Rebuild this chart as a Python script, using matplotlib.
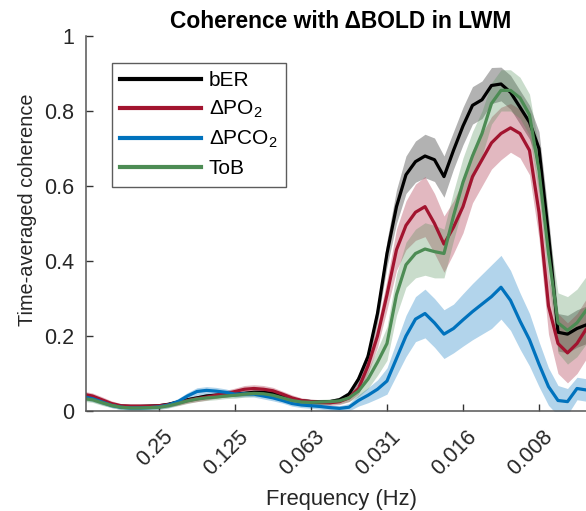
import numpy as np
import matplotlib
matplotlib.use('Agg')
import matplotlib.pyplot as plt
import matplotlib.transforms as mtransforms
from matplotlib.ticker import FixedLocator, FixedFormatter, NullLocator

plt.rcParams['font.family'] = ['Liberation Sans', 'DejaVu Sans']
plt.rcParams['mathtext.fontset'] = 'custom'
plt.rcParams['mathtext.rm'] = 'Liberation Sans'
plt.rcParams['mathtext.it'] = 'Liberation Sans:italic'
plt.rcParams['mathtext.bf'] = 'Liberation Sans:bold'

# frequency grid (1/8-octave steps from 0.5 Hz downwards)
period_log2 = np.arange(1.0, 7.76, 0.125)
freq = 2.0 ** (-period_log2)

ber_mean = [0.040, 0.035, 0.025, 0.017, 0.013, 0.012, 0.012, 0.013,
            0.014, 0.018, 0.024, 0.030, 0.035, 0.040, 0.042, 0.043,
            0.045, 0.047, 0.050, 0.050, 0.047, 0.040, 0.032, 0.027,
            0.025, 0.024, 0.025, 0.030, 0.045, 0.085, 0.145, 0.260,
            0.420, 0.545, 0.630, 0.665, 0.680, 0.670, 0.625, 0.695,
            0.760, 0.815, 0.830, 0.868, 0.872, 0.850, 0.810, 0.770,
            0.700, 0.470, 0.210, 0.205, 0.220, 0.230, 0.235]
ber_err = [0.006, 0.006, 0.006, 0.006, 0.005, 0.005, 0.005, 0.005,
           0.005, 0.005, 0.006, 0.006, 0.006, 0.006, 0.006, 0.006,
           0.006, 0.006, 0.006, 0.006, 0.006, 0.006, 0.006, 0.006,
           0.006, 0.006, 0.006, 0.007, 0.008, 0.012, 0.018, 0.025,
           0.035, 0.045, 0.050, 0.055, 0.058, 0.058, 0.055, 0.050,
           0.050, 0.050, 0.050, 0.048, 0.045, 0.045, 0.045, 0.045,
           0.045, 0.050, 0.050, 0.050, 0.050, 0.050, 0.050]

po2_mean = [0.045, 0.040, 0.030, 0.020, 0.014, 0.013, 0.013, 0.013,
            0.014, 0.017, 0.022, 0.028, 0.033, 0.037, 0.042, 0.046,
            0.052, 0.058, 0.060, 0.058, 0.054, 0.045, 0.035, 0.028,
            0.025, 0.023, 0.022, 0.025, 0.035, 0.060, 0.120, 0.200,
            0.310, 0.430, 0.495, 0.530, 0.545, 0.500, 0.445, 0.490,
            0.545, 0.625, 0.670, 0.715, 0.740, 0.755, 0.740, 0.695,
            0.530, 0.280, 0.180, 0.155, 0.180, 0.220, 0.230]
po2_err = [0.008, 0.008, 0.008, 0.007, 0.006, 0.006, 0.006, 0.006,
           0.006, 0.006, 0.007, 0.007, 0.008, 0.008, 0.008, 0.009,
           0.009, 0.010, 0.010, 0.010, 0.009, 0.008, 0.008, 0.007,
           0.007, 0.007, 0.007, 0.008, 0.010, 0.015, 0.020, 0.030,
           0.040, 0.055, 0.065, 0.075, 0.080, 0.080, 0.075, 0.070,
           0.070, 0.070, 0.070, 0.070, 0.070, 0.065, 0.065, 0.065,
           0.070, 0.075, 0.080, 0.080, 0.080, 0.080, 0.080]

pco2_mean = [0.038, 0.033, 0.024, 0.015, 0.010, 0.008, 0.008, 0.009,
             0.011, 0.016, 0.025, 0.040, 0.052, 0.055, 0.053, 0.050,
             0.045, 0.046, 0.045, 0.040, 0.035, 0.028, 0.020, 0.016,
             0.014, 0.012, 0.009, 0.007, 0.010, 0.028, 0.042, 0.058,
             0.080, 0.140, 0.200, 0.245, 0.260, 0.235, 0.205, 0.220,
             0.243, 0.265, 0.285, 0.305, 0.330, 0.295, 0.240, 0.190,
             0.125, 0.065, 0.028, 0.025, 0.060, 0.056, 0.055]
pco2_err = [0.008, 0.008, 0.007, 0.006, 0.006, 0.006, 0.006, 0.006,
            0.006, 0.007, 0.008, 0.009, 0.010, 0.010, 0.010, 0.009,
            0.008, 0.008, 0.008, 0.008, 0.008, 0.007, 0.007, 0.007,
            0.007, 0.007, 0.007, 0.007, 0.010, 0.015, 0.020, 0.025,
            0.035, 0.045, 0.055, 0.060, 0.065, 0.065, 0.065, 0.065,
            0.070, 0.075, 0.080, 0.085, 0.085, 0.080, 0.075, 0.070,
            0.060, 0.050, 0.040, 0.035, 0.030, 0.030, 0.030]

tob_mean = [0.033, 0.030, 0.022, 0.015, 0.010, 0.008, 0.008, 0.009,
            0.010, 0.014, 0.020, 0.027, 0.032, 0.035, 0.037, 0.040,
            0.042, 0.045, 0.047, 0.046, 0.042, 0.035, 0.028, 0.024,
            0.023, 0.024, 0.025, 0.027, 0.035, 0.053, 0.085, 0.130,
            0.180, 0.310, 0.390, 0.420, 0.432, 0.425, 0.420, 0.520,
            0.610, 0.680, 0.740, 0.820, 0.855, 0.855, 0.835, 0.790,
            0.640, 0.420, 0.235, 0.215, 0.235, 0.270, 0.280]
tob_err = [0.007, 0.007, 0.007, 0.006, 0.006, 0.006, 0.006, 0.006,
           0.006, 0.006, 0.006, 0.007, 0.007, 0.007, 0.007, 0.007,
           0.008, 0.008, 0.008, 0.008, 0.008, 0.007, 0.007, 0.007,
           0.007, 0.007, 0.007, 0.008, 0.010, 0.015, 0.025, 0.035,
           0.045, 0.055, 0.060, 0.065, 0.070, 0.070, 0.065, 0.065,
           0.065, 0.065, 0.060, 0.055, 0.055, 0.055, 0.055, 0.055,
           0.060, 0.070, 0.080, 0.090, 0.090, 0.090, 0.090]

series_labels = ['bER', 'ΔPO$_2$', 'ΔPCO$_2$', 'ToB']
series_colors = ['#000000', '#A2142F', '#0072BD', '#4D8C54']

xtick_freqs = [0.25, 0.125, 0.0625, 0.03125, 0.015625, 0.0078125]
xtick_labels = ['0.25', '0.125', '0.063', '0.031', '0.016', '0.008']
ytick_vals = [0, 0.2, 0.4, 0.6, 0.8, 1.0]
ytick_labels = ['0', '0.2', '0.4', '0.6', '0.8', '1']

means = [ber_mean, po2_mean, pco2_mean, tob_mean]
errs = [ber_err, po2_err, pco2_err, tob_err]

W, H = 586, 511
fig = plt.figure(figsize=(W / 100, H / 100), dpi=100)
ax = fig.add_axes([86 / W, (H - 411) / H, 510 / W, 375 / H])

lines = []
for m, e, c, lab in zip(means, errs, series_colors, series_labels):
    m = np.asarray(m)
    e = np.asarray(e)
    ax.fill_between(freq, m - e, m + e, color=c, alpha=0.3, lw=0)
    ln, = ax.plot(freq, m, color=c, lw=2.3, label=lab, solid_joinstyle='round')
    lines.append(ln)

ax.set_xscale('log', base=2)
ax.set_xlim(2 ** -1.04, 2 ** -7.75)
ax.set_ylim(0, 1)
ax.xaxis.set_major_locator(FixedLocator(xtick_freqs))
ax.xaxis.set_major_formatter(FixedFormatter(xtick_labels))
ax.xaxis.set_minor_locator(NullLocator())
ax.yaxis.set_major_locator(FixedLocator(ytick_vals))
ax.yaxis.set_major_formatter(FixedFormatter(ytick_labels))

for s in ['top', 'right']:
    ax.spines[s].set_visible(False)
for s in ['left', 'bottom']:
    ax.spines[s].set_color('#555555')
    ax.spines[s].set_linewidth(1.1)

ax.tick_params(axis='both', direction='in', length=5, width=1.0, color='#333333',
               labelcolor='#262626')
ax.tick_params(axis='y', pad=8.6, labelsize=15.5)
ax.tick_params(axis='x', pad=11.0, labelsize=15.5)

fig.canvas.draw()
offset = mtransforms.ScaledTranslation(18 / 100, 0, fig.dpi_scale_trans)
for lbl in ax.get_xticklabels():
    lbl.set_rotation(45)
    lbl.set_ha('right')
    lbl.set_va('top')
    lbl.set_rotation_mode('default')
    lbl.set_transform(lbl.get_transform() + offset)

ax.set_xlabel('Frequency (Hz)', fontsize=15.8, color='#262626')
ax.xaxis.set_label_coords(0.5, (411 - 489) / 375)
ax.set_ylabel('Time-averaged coherence', fontsize=14.3, color='#262626')
ax.yaxis.set_label_coords((37 - 86) / 510, (411 - 210) / 375)
ax.set_title('Coherence with ΔBOLD in LWM', fontsize=16.4, fontweight='bold', pad=5.8)

leg = ax.legend(handles=lines, loc='upper left', bbox_to_anchor=(0.051, 0.928),
                borderaxespad=0, fontsize=15, frameon=True, fancybox=False,
                handlelength=3.85, handletextpad=0.4, labelspacing=0.42,
                borderpad=0.4)
leg.get_frame().set_edgecolor('#333333')
leg.get_frame().set_linewidth(1.0)
for h in leg.get_lines():
    h.set_linewidth(3.0)

fig.savefig('out.png', dpi=100)
